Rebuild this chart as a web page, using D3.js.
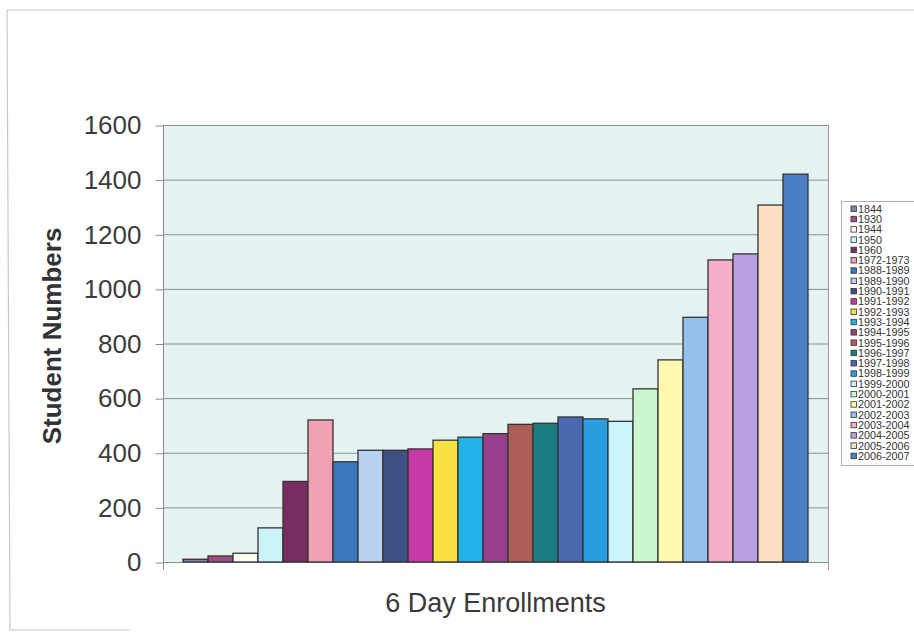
<!DOCTYPE html>
<html>
<head>
<meta charset="utf-8">
<script src="https://cdn.jsdelivr.net/npm/d3@7"></script>
<style>
  html, body { margin: 0; padding: 0; background: #fff; }
  svg { display: block; }
  text { font-family: "Liberation Sans", Arial, sans-serif; }
</style>
</head>
<body>
<svg id="chart" width="914" height="632"></svg>
<script>
// Enrollment periods (one series each) and student counts
const periods = [
  "1844", "1930", "1944", "1950", "1960", "1972-1973",
  "1988-1989", "1989-1990", "1990-1991", "1991-1992", "1992-1993",
  "1993-1994", "1994-1995", "1995-1996", "1996-1997", "1997-1998",
  "1998-1999", "1999-2000", "2000-2001", "2001-2002", "2002-2003",
  "2003-2004", "2004-2005", "2005-2006", "2006-2007"
];
const students = [
  10, 22, 32, 125, 295, 520,
  367, 409, 409, 414, 446,
  457, 470, 504, 508, 531,
  524, 515, 634, 740, 896,
  1106, 1128, 1307, 1420
];
const barColors = [
  "#7f85a8", "#9c4f80", "#fbfbf2", "#c9f3f8", "#782d62", "#f0a2b2",
  "#3b77be", "#b9d1f1", "#3d5283", "#c73aa6", "#f9e043",
  "#22b2e8", "#983f8b", "#ad5e57", "#1b7d80", "#4a69ae",
  "#2a9fdf", "#c9f5fb", "#caf7d2", "#fff8b0", "#92c1ec",
  "#f5adc9", "#b7a1e0", "#fde1c2", "#4b80c7"
];
const yTicks = [0, 200, 400, 600, 800, 1000, 1200, 1400, 1600];
const xTitle = "6 Day Enrollments";
const yTitle = "Student Numbers";

const svg = d3.select("#chart");

// outer chart frame
svg.append("path")
  .attr("d", "M914,10 L7,10 L10,630 L130,630")
  .attr("fill", "none")
  .attr("stroke", "#c8c8c8")
  .attr("stroke-width", 1.2);

const plot = { left: 163, right: 828, top: 125, bottom: 562 };

const x = d3.scaleBand()
  .domain(periods)
  .range([plot.left, plot.right])
  .paddingInner(0)
  .paddingOuter(0.8);

const y = d3.scaleLinear()
  .domain([0, 1600])
  .range([plot.bottom, plot.top]);

// plot area background
svg.append("rect")
  .attr("x", plot.left).attr("y", plot.top)
  .attr("width", plot.right - plot.left)
  .attr("height", plot.bottom - plot.top)
  .attr("fill", "#e5f2f2");

// gridlines
svg.append("g")
  .selectAll("line")
  .data(yTicks)
  .join("line")
  .attr("x1", plot.left).attr("x2", plot.right)
  .attr("y1", d => y(d) + 0.5).attr("y2", d => y(d) + 0.5)
  .attr("stroke", "#8e8e8e")
  .attr("stroke-width", 1);

// right border of the plot area
svg.append("line")
  .attr("x1", plot.right + 0.5).attr("x2", plot.right + 0.5)
  .attr("y1", plot.top).attr("y2", plot.bottom + 8)
  .attr("stroke", "#9a9a9a");

// bars
svg.append("g")
  .selectAll("rect")
  .data(periods.map((p, i) => ({ p, v: students[i], c: barColors[i] })))
  .join("rect")
  .attr("x", d => x(d.p))
  .attr("y", d => y(d.v))
  .attr("width", x.bandwidth())
  .attr("height", d => y(0) - y(d.v))
  .attr("fill", d => d.c)
  .attr("stroke", "#333")
  .attr("stroke-width", 1.3);

// y axis
const yAxis = d3.axisLeft(y)
  .tickValues(yTicks)
  .tickFormat(d3.format("d"))
  .tickSize(8)
  .tickPadding(14)
  .tickSizeOuter(0);
const gy = svg.append("g")
  .attr("transform", `translate(${plot.left + 0.5},0.5)`)
  .call(yAxis);
gy.select(".domain").remove();
gy.append("line")
  .attr("x1", 0).attr("x2", 0)
  .attr("y1", plot.top - 0.5).attr("y2", plot.bottom + 7)
  .attr("stroke", "#8a8a8a");
gy.selectAll(".tick line").attr("stroke", "#8a8a8a");
gy.selectAll(".tick text")
  .attr("fill", "#3c3c3c")
  .style("font-size", "26px")
  .style("font-family", "'Liberation Sans', Arial, sans-serif");

// x axis title
svg.append("text")
  .attr("x", (plot.left + plot.right) / 2)
  .attr("y", 612)
  .attr("text-anchor", "middle")
  .attr("fill", "#3a3a3a")
  .style("font-size", "27px")
  .text(xTitle);

// y axis title
svg.append("text")
  .attr("transform", "translate(61,336) rotate(-90)")
  .attr("text-anchor", "middle")
  .attr("fill", "#333")
  .style("font-size", "26px")
  .style("font-weight", "bold")
  .text(yTitle);

// legend
const leg = svg.append("g");
leg.append("rect")
  .attr("x", 841.5).attr("y", 201.5)
  .attr("width", 90).attr("height", 264)
  .attr("fill", "#fff")
  .attr("stroke", "#b0b0b0");
const rowH = 10.3;
const items = leg.selectAll("g.item")
  .data(periods.map((p, i) => ({ p, c: barColors[i] })))
  .join("g")
  .attr("class", "item")
  .attr("transform", (d, i) => `translate(851,${209 + i * rowH})`);
items.append("rect")
  .attr("x", 0).attr("y", -3)
  .attr("width", 5.5).attr("height", 5.5)
  .attr("fill", d => d.c)
  .attr("stroke", "#333")
  .attr("stroke-width", 0.8);
items.append("text")
  .attr("transform", "translate(7,3.6) scale(1.08,1)")
  .attr("fill", "#333")
  .style("font-size", "10px")
  .text(d => d.p);
</script>
</body>
</html>
